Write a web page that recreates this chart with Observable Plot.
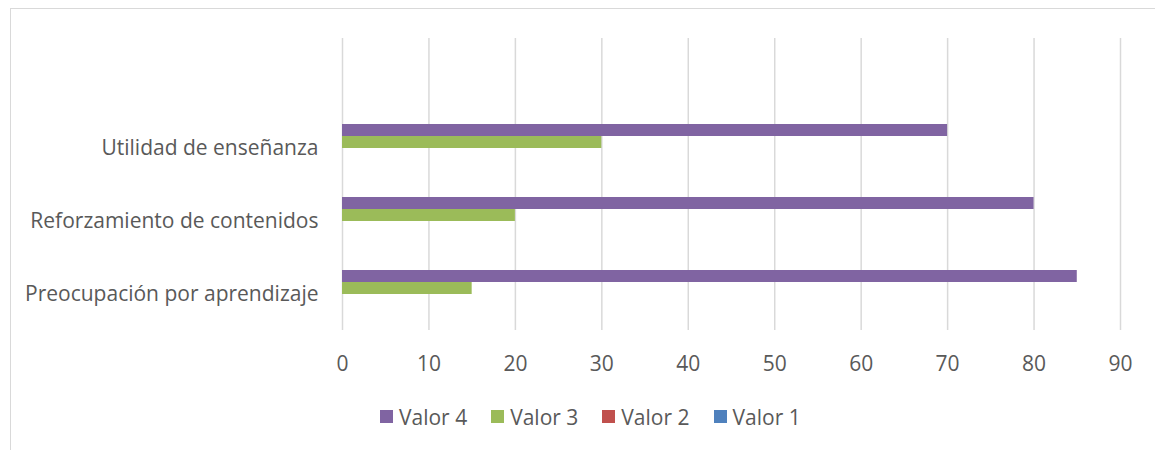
<!DOCTYPE html>
<html><head><meta charset="utf-8">
<script src="https://cdn.jsdelivr.net/npm/d3@7"></script>
<script src="https://cdn.jsdelivr.net/npm/@observablehq/plot@0.6"></script>
<style>
body{margin:0;background:#fff;font-family:"Open Sans",sans-serif;}
#frame{position:absolute;left:10px;top:8px;width:1160px;height:460px;border:1px solid #d9d9d9;box-sizing:border-box}
#chart{position:absolute;left:0;top:0}
#legend{position:absolute;left:380px;top:400px}
.lg-swatch{margin-right:24px !important}
.lg-swatch > svg{margin-right:6px !important}
</style></head><body>
<div id="frame"></div><div id="chart"></div><div id="legend"></div>
<script>
// Categories in data order (Excel draws the first one at the bottom); the last one is a blank row.
const categories = ["Preocupación por aprendizaje", "Reforzamiento de contenidos", "Utilidad de enseñanza", ""];
const seriesNames = ["Valor 1", "Valor 2", "Valor 3", "Valor 4"];
const valor1 = [0, 0, 0, 0];
const valor2 = [0, 0, 0, 0];
const valor3 = [15, 20, 30, 0];
const valor4 = [85, 80, 70, 0];
const seriesColors = ["#4F81BD", "#C0504D", "#9BBB59", "#8064A2"];
const xTicks = [0, 10, 20, 30, 40, 50, 60, 70, 80, 90];

const seriesValues = [valor1, valor2, valor3, valor4];
const data = [];
categories.forEach((c, i) => seriesNames.forEach((s, j) => data.push({category: c, series: s, value: seriesValues[j][i]})));

const topDown = [...seriesNames].reverse();
const topDownColors = [...seriesColors].reverse();

const chart = Plot.plot({
  width: 1155, height: 390,
  marginTop: 37, marginBottom: 59, marginLeft: 342, marginRight: 35,
  style: {fontFamily: "Open Sans", fontSize: "21px", color: "#595959", background: "transparent"},
  x: {domain: [0, 90], ticks: xTicks, tickSize: 0, tickPadding: 26, label: null},
  fy: {domain: [...categories].reverse(), padding: 0, tickSize: 0, tickPadding: 24, label: null, axis: "left"},
  y: {domain: topDown, axis: null, paddingInner: 0, paddingOuter: 0.83},
  color: {domain: topDown, range: topDownColors},
  marks: [
    Plot.ruleX(xTicks, {stroke: "#d9d9d9", strokeWidth: 1.5}),
    Plot.barX(data, {fy: "category", y: "series", x: "value", fill: "series"})
  ]
});
document.getElementById("chart").appendChild(chart);

const legend = Plot.legend({
  color: {domain: topDown, range: topDownColors},
  legend: "swatches", swatchSize: 13, className: "lg",
  style: {fontFamily: "Open Sans", fontSize: "21px", color: "#595959"}
});
document.getElementById("legend").appendChild(legend);
</script>
</body></html>
